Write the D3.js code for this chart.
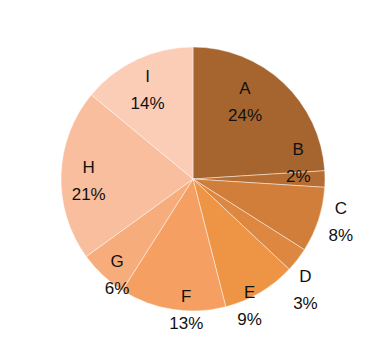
<!DOCTYPE html>
<html>
<head>
<meta charset="utf-8">
<script src="https://cdn.jsdelivr.net/npm/d3@7"></script>
<style>
  body { margin: 0; background: #fff; }
  text { font-family: "Liberation Sans", Arial, sans-serif; font-size: 17px; fill: #111; }
</style>
</head>
<body>
<div id="chart"></div>
<script>
// chart data
var categories = ["A", "B", "C", "D", "E", "F", "G", "H", "I"];
var values = [24, 2, 8, 3, 9, 13, 6, 21, 14];
var colors = ["#a6652f", "#b56d34", "#d17e3a", "#de8740", "#ed9445", "#f5a062", "#f7ad7b", "#f8be9e", "#fbcdb7"];

// label placement (fraction of radius, angle shift in degrees) - like excel "best fit"
var labelRadius = [0.72, 0.81, 1.16, 1.18, 1.03, 0.97, 0.91, 0.79, 0.78];
var labelShift = [-10, -10, -3, 6, 6, -6, -4, -1, -1];

var svgWidth = 385;
var svgHeight = 354;
var cx = 193, cy = 179, radius = 132;

var svg = d3.select("#chart")
  .append("svg")
  .attr("width", svgWidth)
  .attr("height", svgHeight);

var chartGroup = svg.append("g")
  .attr("transform", `translate(${cx}, ${cy})`);

var pie = d3.pie().sort(null).value(d => d);
var arcs = pie(values);

var arc = d3.arc().innerRadius(0).outerRadius(radius);

chartGroup.selectAll("path")
  .data(arcs)
  .enter()
  .append("path")
  .attr("d", arc)
  .attr("fill", (d, i) => colors[i])
  .attr("stroke", "rgba(255,255,255,0.45)")
  .attr("stroke-width", 1);

// labels
var labels = chartGroup.selectAll(".lbl")
  .data(arcs)
  .enter()
  .append("g")
  .attr("class", "lbl")
  .attr("transform", function(d, i) {
    var a = (d.startAngle + d.endAngle) / 2 + labelShift[i] * Math.PI / 180;
    var r = radius * labelRadius[i];
    return `translate(${r * Math.sin(a)}, ${-r * Math.cos(a)})`;
  });

labels.append("text")
  .attr("text-anchor", "middle")
  .attr("y", -5)
  .text((d, i) => categories[i]);

labels.append("text")
  .attr("text-anchor", "middle")
  .attr("y", 22)
  .text((d, i) => values[i] + "%");
</script>
</body>
</html>
